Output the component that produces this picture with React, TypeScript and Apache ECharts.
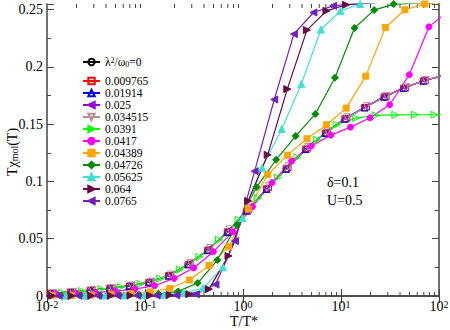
import React, { useEffect, useRef } from 'react';
import * as echarts from 'echarts';

const seriesNames = ['lambda0', '0.009765', '0.01914', '0.025', '0.034515', '0.0391', '0.0417', '0.04389', '0.04726', '0.05625', '0.064', '0.0765'];
const seriesColors = ['#000000', '#ff0000', '#0000ff', '#9400d3', '#bc8f8f', '#00ff00', '#ff00ff', '#ffa500', '#008b00', '#40e0d0', '#670748', '#7221bc'];
const seriesSymbols = ['circle', 'rect', 'triangle', 'triangle', 'triangle', 'triangle', 'circle', 'rect', 'diamond', 'triangle', 'triangle', 'triangle'];
const seriesRotate = [0, 0, 0, 90, 180, -90, 0, 0, 0, 0, -90, 90];
const seriesFilled = [false, false, false, false, false, false, true, true, true, true, true, true];

const xBase = [0.01096, 0.01738, 0.02754, 0.04365, 0.06918, 0.1096, 0.1738, 0.2754, 0.4365, 0.6918, 1.096, 1.738, 2.754, 4.365, 6.918, 10.96, 17.38, 27.54, 43.65, 69.18, 109.6];
const yBlack = [0.0025, 0.0035, 0.005, 0.0068, 0.0088, 0.012, 0.0177, 0.0276, 0.040, 0.0559, 0.0745, 0.0935, 0.111, 0.1283, 0.1423, 0.1548, 0.1646, 0.174, 0.1816, 0.188, 0.1925];
const yRed = [0.0025, 0.0035, 0.005, 0.0068, 0.0088, 0.012, 0.0178, 0.0277, 0.0401, 0.056, 0.0746, 0.0936, 0.1111, 0.1284, 0.1424, 0.1548, 0.1646, 0.1739, 0.1815, 0.1879, 0.1924];
const yBlue = [0.0025, 0.0035, 0.005, 0.0068, 0.0088, 0.012, 0.0177, 0.0276, 0.040, 0.0559, 0.0745, 0.0935, 0.111, 0.1283, 0.1423, 0.1548, 0.1646, 0.174, 0.1816, 0.188, 0.1925];
const xViolet = [0.01135, 0.01799, 0.02851, 0.04519, 0.07161, 0.1135, 0.1799, 0.2851, 0.4519, 0.7161, 1.135, 1.799, 2.851, 4.519, 7.161, 11.35, 17.99, 28.51, 45.19, 71.61, 113.5];
const yViolet = [0.0026, 0.0036, 0.0051, 0.007, 0.009, 0.0124, 0.0183, 0.0285, 0.0412, 0.0573, 0.076, 0.095, 0.1124, 0.1294, 0.1433, 0.1556, 0.1653, 0.1745, 0.182, 0.1884, 0.1928];
const xRosy = [0.01161, 0.01841, 0.02917, 0.04624, 0.07328, 0.1161, 0.1841, 0.2917, 0.4624, 0.7328, 1.161, 1.841, 2.917, 4.624, 7.328, 11.61, 18.41, 29.17, 46.24, 73.28, 116.1];
const yRosy = [0.0026, 0.0036, 0.0052, 0.0071, 0.0092, 0.0126, 0.0187, 0.029, 0.0419, 0.0582, 0.077, 0.096, 0.1133, 0.1301, 0.1439, 0.1561, 0.1657, 0.1749, 0.1823, 0.1887, 0.193];
const xGreen = [0.009016, 0.01429, 0.02265, 0.03589, 0.05689, 0.09016, 0.1429, 0.2265, 0.3589, 0.5689, 0.9016, 1.429, 2.265, 3.589, 5.689, 9.016, 14.29, 22.65, 35.89, 56.89, 90.16, 142.9];
const yGreen = [0.0022, 0.003, 0.0043, 0.006, 0.0078, 0.0105, 0.015, 0.023, 0.034, 0.049, 0.0665, 0.0855, 0.1035, 0.121, 0.1365, 0.1496, 0.1554, 0.1578, 0.1582, 0.1583, 0.1583, 0.1583];
const xMagenta = [0.007889, 0.0125, 0.01982, 0.03141, 0.04977, 0.07889, 0.125, 0.1982, 0.3141, 0.4977, 0.7889, 1.25, 1.982, 3.141, 4.977, 7.889, 12.5, 19.82, 31.41, 49.77, 78.89, 125.0];
const yMagenta = [0.0012, 0.0016, 0.0022, 0.003, 0.0042, 0.006, 0.009, 0.0154, 0.0245, 0.0387, 0.056, 0.078, 0.099, 0.118, 0.131, 0.1405, 0.1475, 0.1556, 0.167, 0.1932, 0.235, 0.249];
const xOrange = [0.0113, 0.01791, 0.02838, 0.04498, 0.07129, 0.113, 0.1791, 0.2838, 0.4498, 0.7129, 1.13, 1.791, 2.838, 4.498, 7.129, 11.3, 17.91, 28.38, 44.98, 71.29, 113.0];
const yOrange = [0.0004, 0.0005, 0.0008, 0.0012, 0.002, 0.0035, 0.0066, 0.014, 0.0265, 0.043, 0.076, 0.106, 0.123, 0.1373, 0.1495, 0.1641, 0.192, 0.2345, 0.25, 0.255, 0.2555];
const xDkGreen = [0.00867, 0.01374, 0.02178, 0.03451, 0.0547, 0.0867, 0.1374, 0.2178, 0.3451, 0.547, 0.867, 1.374, 2.178, 3.451, 5.47, 8.67, 13.74, 21.78, 34.51, 54.7, 86.7];
const yDkGreen = [0.0003, 0.0004, 0.0005, 0.0006, 0.0008, 0.0011, 0.0018, 0.004, 0.0113, 0.0314, 0.062, 0.095, 0.119, 0.1397, 0.159, 0.1906, 0.234, 0.2497, 0.2549, 0.2556, 0.2558];
const xTurq = [0.009886, 0.01567, 0.02483, 0.03936, 0.06237, 0.09886, 0.1567, 0.2483, 0.3936, 0.6237, 0.9886, 1.567, 2.483, 3.936, 6.237, 9.886, 15.67, 24.83, 39.36, 62.37, 98.86];
const yTurq = [0.0002, 0.0003, 0.0003, 0.0004, 0.0005, 0.0007, 0.0012, 0.0025, 0.007, 0.025, 0.068, 0.112, 0.1458, 0.185, 0.2327, 0.249, 0.255, 0.2565, 0.257, 0.2572, 0.2573];
const xMaroon = [0.01127, 0.01786, 0.02831, 0.04487, 0.07112, 0.1127, 0.1786, 0.2831, 0.4487, 0.7112, 1.127, 1.786, 2.831, 4.487, 7.112, 11.27, 17.86, 28.31, 44.87, 71.12, 112.7];
const yMaroon = [0.0002, 0.0002, 0.0003, 0.0003, 0.0004, 0.0005, 0.0008, 0.0016, 0.006, 0.035, 0.083, 0.1233, 0.1807, 0.2322, 0.249, 0.2543, 0.2558, 0.2566, 0.257, 0.2572, 0.2573];
const xIndigo = [0.008299, 0.01315, 0.02084, 0.03304, 0.05236, 0.08299, 0.1315, 0.2084, 0.3304, 0.5236, 0.8299, 1.315, 2.084, 3.304, 5.236, 8.299, 13.15, 20.84, 33.04, 52.36, 82.99];
const yIndigo = [0.0001, 0.0001, 0.0002, 0.0002, 0.0003, 0.0003, 0.0004, 0.0006, 0.0015, 0.01, 0.048, 0.109, 0.1716, 0.2287, 0.2476, 0.2534, 0.2552, 0.2562, 0.2568, 0.2571, 0.2573];

const seriesX = [xBase, xBase, xBase, xViolet, xRosy, xGreen, xMagenta, xOrange, xDkGreen, xTurq, xMaroon, xIndigo];
const seriesY = [yBlack, yRed, yBlue, yViolet, yRosy, yGreen, yMagenta, yOrange, yDkGreen, yTurq, yMaroon, yIndigo];

const xMin = 0.01;
const xMax = 100;
const yMin = 0;
const yMax = 0.255;
const yInterval = 0.05;

const FONT = '"Liberation Serif", "Times New Roman", "DejaVu Serif", serif';
const AXIS_COLOR = '#444';

export default function App() {
  const ref = useRef<HTMLDivElement>(null);
  useEffect(() => {
    if (!ref.current) return;
    const chart = echarts.init(ref.current, undefined, { renderer: 'svg' });

    const minorX: number[][] = [];
    for (let e = -2; e < 2; e++) {
      for (let m = 2; m <= 9; m++) minorX.push([m * Math.pow(10, e), 0]);
    }

    const lineSeries = seriesNames.map((name, i) => {
      const c = seriesColors[i];
      return {
        type: 'line',
        name,
        xAxisIndex: 0,
        yAxisIndex: 0,
        data: seriesX[i].map((x, j) => [x, seriesY[i][j]]),
        symbol: seriesSymbols[i],
        symbolSize: seriesSymbols[i] === 'triangle' ? 7 : seriesSymbols[i] === 'diamond' ? 7 : 6,
        symbolRotate: seriesRotate[i],
        showAllSymbol: true,
        lineStyle: { color: c, width: 1.2 },
        itemStyle: { color: seriesFilled[i] ? c : 'rgba(255,255,255,0)', borderColor: c, borderWidth: 1 },
        clip: true,
        silent: true,
      };
    });

    const axisLine = { show: true, lineStyle: { color: AXIS_COLOR, width: 1.5 } };
    const tick = { show: true, inside: true, length: 7, lineStyle: { color: AXIS_COLOR, width: 1 } };
    const minor = { show: true, splitNumber: 2, length: 4, lineStyle: { color: AXIS_COLOR, width: 1 } };

    const legendText = {
      fontFamily: FONT,
      fontSize: 11.5,
      color: '#000',
      rich: {
        a: { fontFamily: FONT, fontSize: 11.5, color: '#000' },
        sup: { fontFamily: FONT, fontSize: 8, color: '#000', verticalAlign: 'top', lineHeight: 8 },
        sub: { fontFamily: FONT, fontSize: 8, color: '#000', verticalAlign: 'bottom', lineHeight: 8 },
      },
    };

    chart.setOption({
      animation: false,
      backgroundColor: '#fff',
      textStyle: { fontFamily: FONT },
      grid: { left: 47, right: 11, top: 4, bottom: 34, containLabel: false, outerBoundsMode: 'none' },
      legend: [
        {
          data: [seriesNames[0]],
          left: 77,
          top: 51,
          itemWidth: 17,
          itemHeight: 8,
          textStyle: legendText,
          formatter: () => '{a|λ}{sup|2}{a|/ω}{sub|0}{a|=0}',
          selectedMode: false,
        },
        {
          data: seriesNames.slice(1),
          orient: 'vertical',
          left: 77,
          top: 70,
          itemWidth: 17,
          itemHeight: 8,
          itemGap: 0,
          textStyle: { fontFamily: FONT, fontSize: 11.5, lineHeight: 10.8, color: '#000' },
          selectedMode: false,
        },
      ],
      xAxis: [
        {
          type: 'log',
          logBase: 10,
          min: xMin,
          max: xMax,
          position: 'bottom',
          axisLine,
          axisTick: tick,
          splitLine: { show: false },
          axisLabel: {
            margin: 3,
            color: '#000',
            formatter: (v: number) => `{b|10}{s|${Math.round(Math.log10(v))}}`,
            rich: {
              b: { fontFamily: FONT, fontSize: 14, color: '#000' },
              s: { fontFamily: FONT, fontSize: 10, color: '#000', verticalAlign: 'top', lineHeight: 10 },
            },
          },
        },
        {
          type: 'log',
          logBase: 10,
          min: xMin,
          max: xMax,
          position: 'top',
          axisLine,
          axisTick: tick,
          axisLabel: { show: false },
          splitLine: { show: false },
        },
      ],
      yAxis: [
        {
          type: 'value',
          min: yMin,
          max: yMax,
          interval: yInterval,
          position: 'left',
          axisLine,
          axisTick: tick,
          minorTick: minor,
          splitLine: { show: false },
          minorSplitLine: { show: false },
          axisLabel: { fontFamily: FONT, fontSize: 14, color: '#000', margin: 4, showMaxLabel: false },
        },
        {
          type: 'value',
          min: yMin,
          max: yMax,
          interval: yInterval,
          position: 'right',
          axisLine,
          axisTick: tick,
          minorTick: minor,
          axisLabel: { show: false },
          splitLine: { show: false },
          minorSplitLine: { show: false },
        },
      ],
      graphic: [
        {
          type: 'text',
          x: 12,
          y: 152,
          rotation: Math.PI / 2,
          style: {
            text: '{a|Tχ}{s|mol}{a|(T)}',
            align: 'center',
            verticalAlign: 'middle',
            rich: {
              a: { fontFamily: FONT, fontSize: 14, fill: '#000' },
              s: { fontFamily: FONT, fontSize: 10, fill: '#000', verticalAlign: 'bottom', lineHeight: 10 },
            },
          },
        },
        {
          type: 'text',
          x: 244,
          y: 321,
          style: { text: 'T/T*', fontFamily: FONT, fontSize: 14, fill: '#000', align: 'center', verticalAlign: 'middle' },
        },
        { type: 'text', left: 327, top: 175, style: { text: 'δ=0.1', fontFamily: FONT, fontSize: 14, fill: '#000' } },
        { type: 'text', left: 327, top: 193, style: { text: 'U=0.5', fontFamily: FONT, fontSize: 14, fill: '#000' } },
      ],
      series: [
        ...lineSeries,
        {
          type: 'custom',
          name: 'minorTicks',
          xAxisIndex: 0,
          yAxisIndex: 0,
          silent: true,
          clip: false,
          data: minorX,
          renderItem: (params: any, api: any) => {
            const x = api.value(0);
            const pb = api.coord([x, yMin]);
            const pt = api.coord([x, yMax]);
            const st = { stroke: AXIS_COLOR, lineWidth: 1 };
            return {
              type: 'group',
              children: [
                { type: 'line', shape: { x1: pb[0], y1: pb[1], x2: pb[0], y2: pb[1] - 4 }, style: st },
                { type: 'line', shape: { x1: pt[0], y1: pt[1], x2: pt[0], y2: pt[1] + 4 }, style: st },
              ],
            };
          },
        },
      ],
    });
    return () => chart.dispose();
  }, []);
  return <div ref={ref} style={{ position: 'absolute', left: 0, top: 0, width: 450, height: 330 }} />;
}
